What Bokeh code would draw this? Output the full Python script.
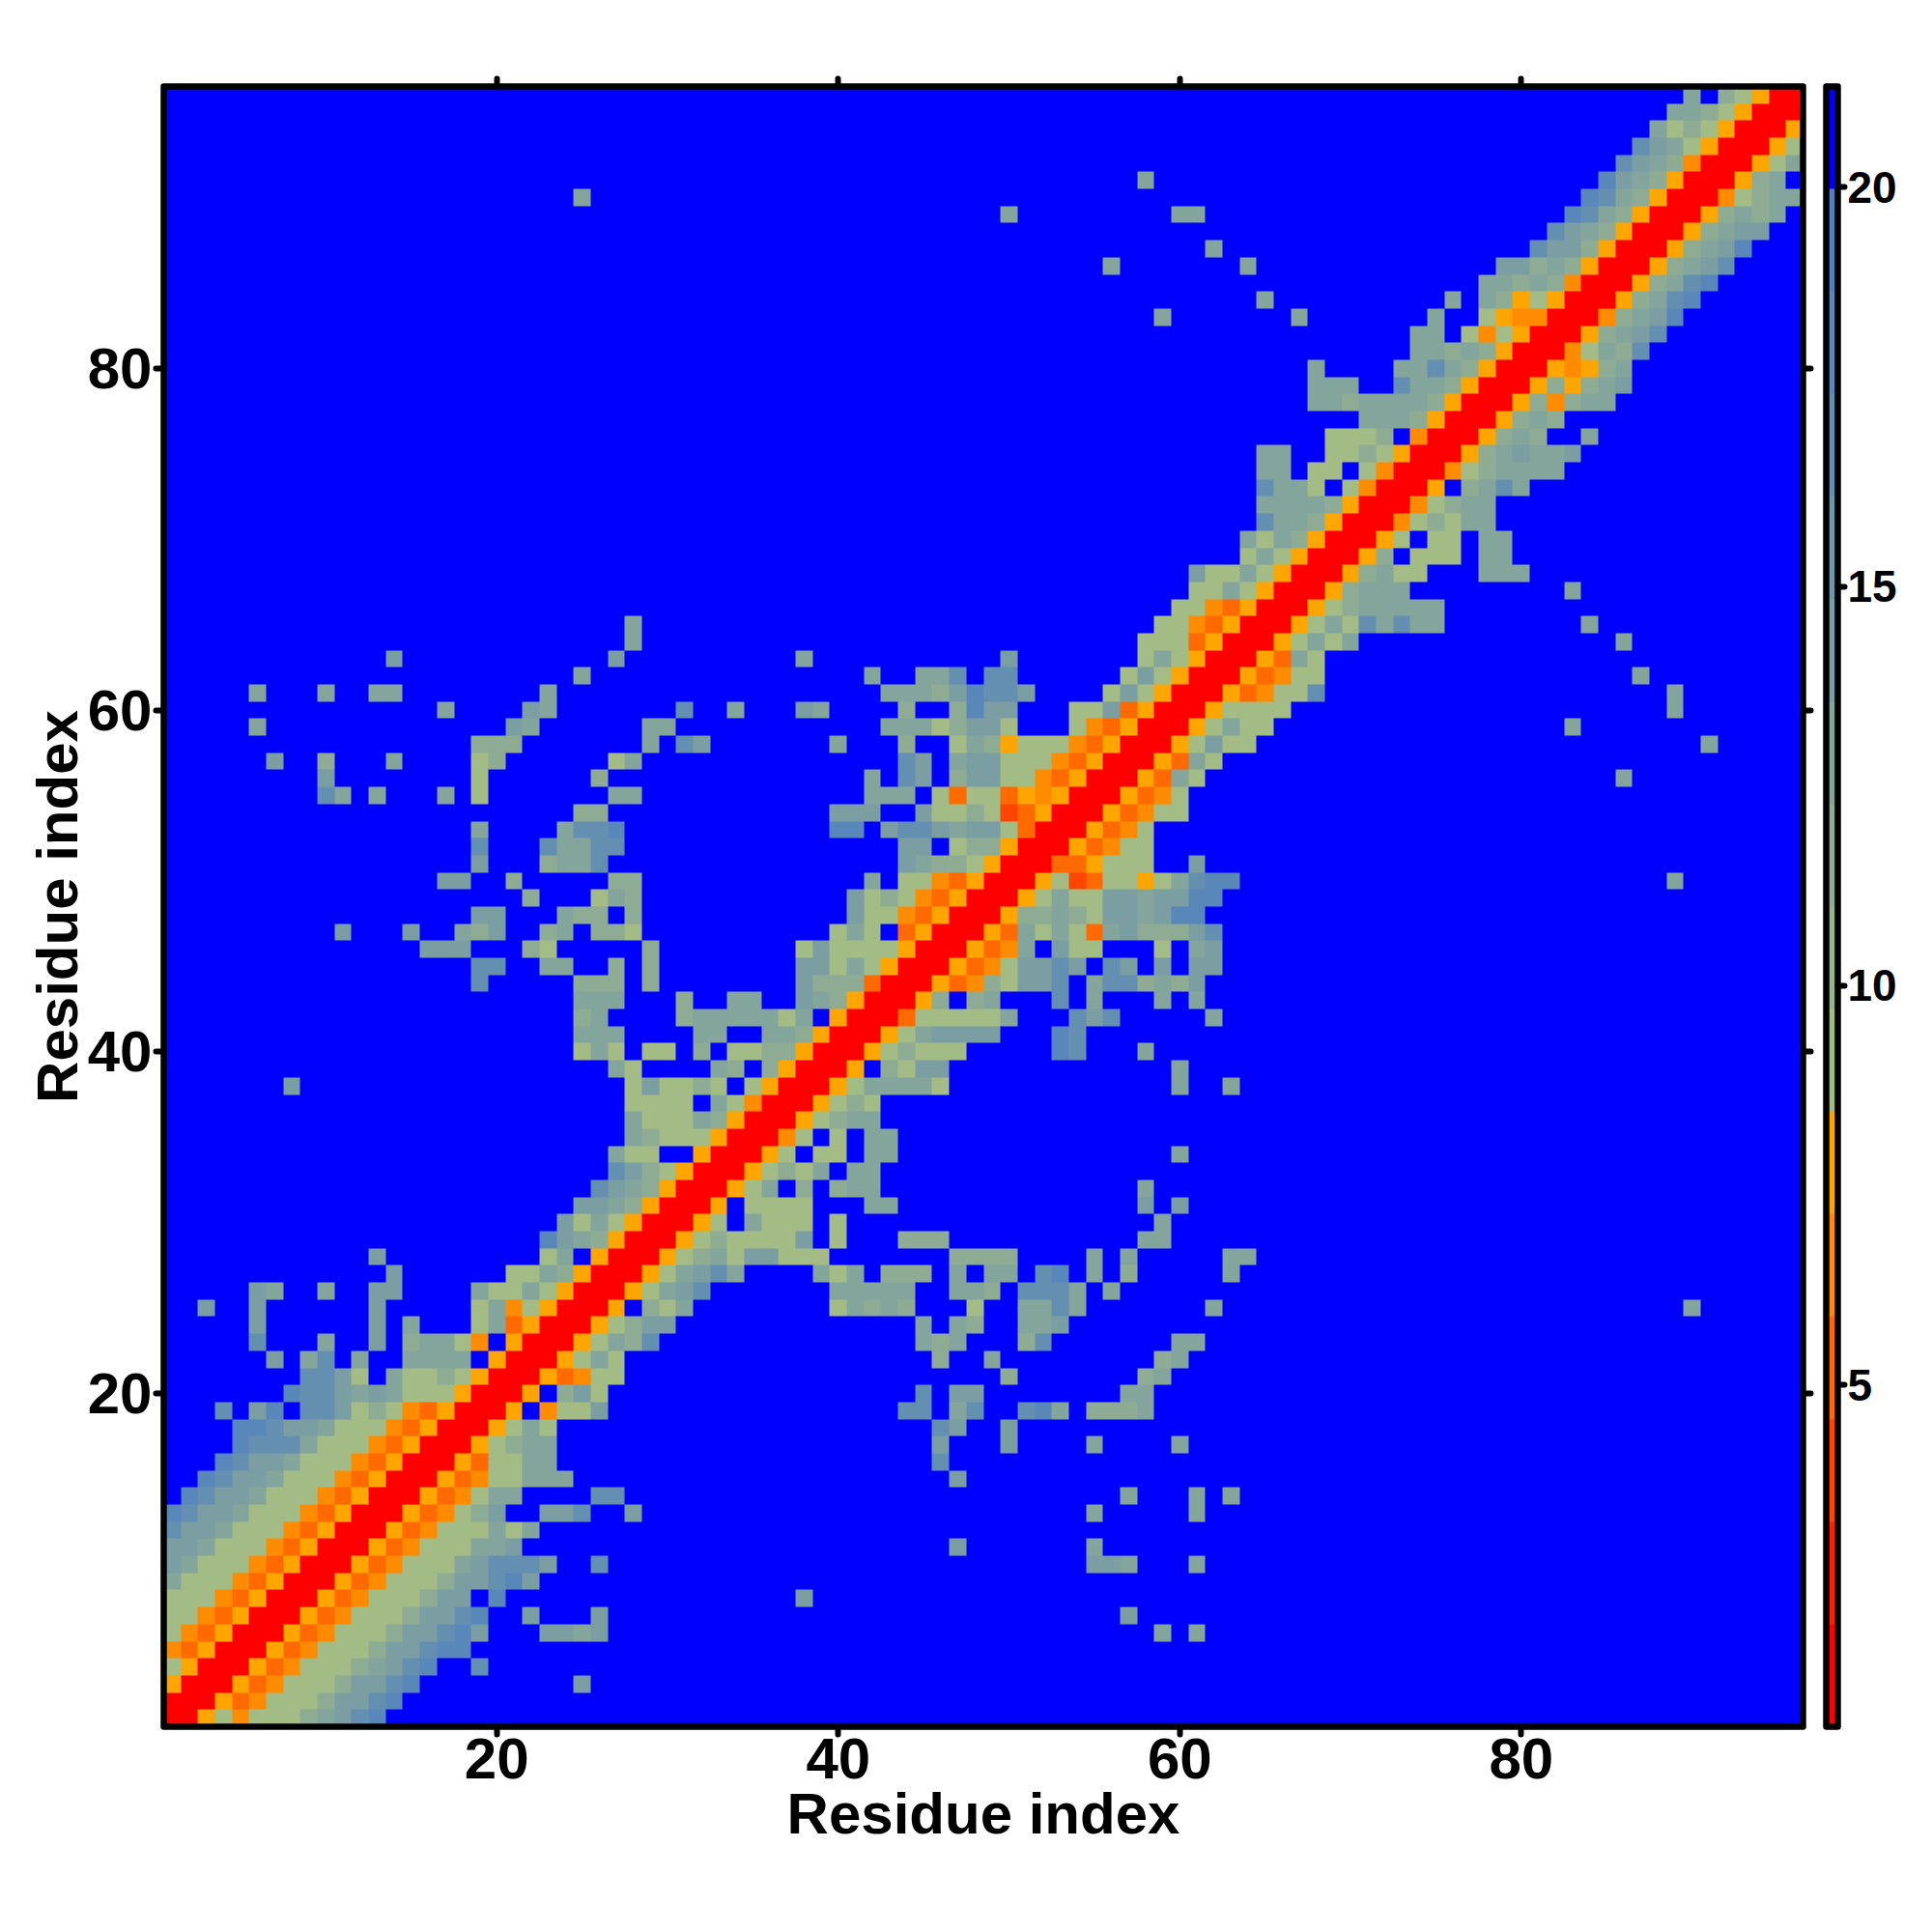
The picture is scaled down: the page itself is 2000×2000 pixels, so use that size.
import numpy as np
from bokeh.embed import file_html
from bokeh.layouts import row
from bokeh.models import FixedTicker, LinearAxis, LinearColorMapper, Range1d
from bokeh.plotting import figure
from bokeh.resources import INLINE

# colour scale: 16 equal bands between scale_low and scale_high
scale_low = 0.72
scale_high = 21.26
palette = ["#ff0000", "#ff2000", "#ff4500", "#ff6a00", "#ff8c00", "#ffa500",
           "#a3bb84", "#99b48c", "#8eac93", "#84a59b", "#7a9ea2", "#6f96aa",
           "#658fb1", "#5a87b9", "#5080c0", "#0000ff"]
# distance read for each letter (band number inside the scale)
band_of = {"r": 0, "a": 2, "o": 3, "m": 4, "d": 5, "6": 6, "7": 6, "8": 8, "9": 9,
           "A": 10, "B": 12, "C": 13}
tick_main = [20, 40, 60, 80]
tick_bar = [5, 10, 15, 20]
axis_title = "Residue index"

# each row: (first residue on x, letters for consecutive residues); the rest is > 20
row_96 = [(90, "9"), (92, "87drr")]
row_95 = [(89, "9987drrr")]
row_94 = [(88, "9787drrrd")]
row_93 = [(87, "BA97drrrd7")]
row_92 = [(86, "BA98mrrrd79")]
row_91 = [(58, "9"), (85, "CA98drrrd89")]
row_90 = [(25, "9"), (84, "CB98drrrm7899")]
row_89 = [(50, "9"), (60, "99"), (83, "CB98drrrd8989")]
row_88 = [(82, "BA98drrrd89AA")]
row_87 = [(62, "9"), (81, "BAA8drrrd89AC")]
row_86 = [(56, "9"), (64, "9"), (79, "AA898drrrd89AB")]
row_85 = [(78, "99898mrrrd89BC")]
row_84 = [(65, "9"), (76, "9"), (78, "98d7drrrd89BC")]
row_83 = [(59, "9"), (67, "9"), (75, "9"), (78, "7dmmrrrm89AC")]
row_82 = [(74, "99"), (77, "7m7drrrd89AB")]
row_81 = [(74, "99898drrrm798B")]
row_80 = [(68, "9"), (73, "99B98drrrdmd89")]
row_79 = [(68, "999"), (73, "B998drrrd8d89A")]
row_78 = [(68, "99899998drrrd8m899")]
row_77 = [(71, "9998drrrd898")]
row_76 = [(69, "7778"), (74, "mrrrd898"), (84, "9")]
row_75 = [(65, "99"), (69, "7787drrrd89A99A")]
row_74 = [(65, "99"), (68, "77"), (71, "7mrrrm789999")]
row_73 = [(65, "B997"), (70, "7mrrrd"), (77, "89B9")]
row_72 = [(65, "99998drrrm7899")]
row_71 = [(65, "B998drrrm78799")]
row_70 = [(64, "9798drrrd7"), (75, "77"), (78, "99")]
row_69 = [(64, "797drrrd8"), (74, "777"), (78, "99")]
row_68 = [(61, "A7797drrrd8977"), (78, "999")]
row_67 = [(61, "7797drrrd8999"), (83, "9")]
row_66 = [(60, "77modrrrd7899999")]
row_65 = [(28, "9"), (59, "77modrrrd797B9B99"), (84, "9")]
row_64 = [(28, "9"), (58, "777odrrrd7979"), (86, "9")]
row_63 = [(14, "A"), (27, "A"), (38, "9"), (50, "A"), (58, "797drrrdo97")]
row_62 = [(25, "9"), (42, "9"), (45, "99B"), (49, "BB"), (57, "7A7drrrdom77"), (87, "9")]
row_61 = [(6, "9"), (10, "9"), (13, "99"), (23, "9"), (43, "9998ACBBA"), (56, "7A7drrrdom77B"), (89, "9")]
row_60 = [(17, "9"), (22, "A9"), (31, "B"), (34, "9"), (38, "A9"), (44, "8"), (47, "8CAA"), (54, "77Aodrrrd7777"), (89, "9")]
row_59 = [(6, "9"), (21, "A9"), (29, "99"), (43, "99978AA7"), (54, "7modrrrd7977"), (83, "9")]
row_58 = [(19, "888"), (29, "9"), (31, "BA"), (40, "9"), (44, "8"), (47, "798d777modrrrd7A77"), (91, "9")]
row_57 = [(7, "A"), (10, "8"), (14, "9"), (19, "78"), (27, "79"), (44, "BA"), (47, "9AA777modrrrdo97")]
row_56 = [(10, "A"), (19, "7"), (26, "8"), (42, "9"), (44, "BA"), (47, "8AA77modrrrdo97"), (86, "9")]
row_55 = [(10, "B9"), (13, "9"), (17, "9"), (19, "7"), (27, "99"), (42, "999"), (46, "7o77odmdrrrdom7")]
row_54 = [(25, "88"), (40, "AAA"), (45, "A7787aodrrrdom77")]
row_53 = [(19, "9"), (24, "9BBC"), (40, "CC"), (43, "ABBA9AA7orrrdom7")]
row_52 = [(19, "B"), (23, "B99BB"), (44, "AA"), (47, "788drrrdom77")]
row_51 = [(19, "A"), (23, "899B"), (44, "A9887drrrood777"), (61, "A")]
row_50 = [(17, "AA"), (21, "8"), (27, "88"), (42, "9"), (44, "77modrrrd7ao77d79BCC"), (89, "9")]
row_49 = [(22, "8"), (26, "798"), (41, "A787modrrrd7977AA9AACC")]
row_48 = [(19, "AA"), (24, "988"), (28, "8"), (41, "A77modrrrd88987AA9ACC")]
row_47 = [(11, "A"), (15, "A"), (18, "98A"), (23, "89"), (26, "887"), (40, "797"), (44, "odrrrdo9797o9A888AB")]
row_46 = [(16, "AAA"), (22, "87"), (29, "8"), (38, "7A7777drrrdom9"), (53, "A77"), (59, "7"), (61, "9A")]
row_45 = [(19, "BB"), (23, "99"), (27, "8"), (29, "8"), (38, "AA797drrrdom7AABA"), (56, "BA"), (59, "A"), (61, "AA")]
row_44 = [(19, "B"), (25, "888"), (29, "8"), (38, "A888orrrdom87AAB"), (55, "9BB898A")]
row_43 = [(25, "999"), (31, "8"), (34, "99"), (38, "A98drrrd8"), (48, "89"), (53, "B"), (55, "9"), (59, "9"), (61, "9")]
row_42 = [(25, "89"), (31, "89999979"), (40, "drrro777779"), (54, "BAB"), (62, "9")]
row_41 = [(25, "999"), (32, "99"), (36, "998drrrd79AAAA"), (53, "CB")]
row_40 = [(25, "697"), (29, "77"), (32, "8"), (34, "7788drrrd78777"), (53, "CB"), (58, "9")]
row_39 = [(27, "97"), (33, "98"), (36, "8drrrd"), (43, "87AA"), (60, "9")]
row_38 = [(8, "A"), (28, "7A7787"), (35, "7drrrd799997"), (60, "9"), (63, "9")]
row_37 = [(28, "7777"), (33, "97mrrrd787")]
row_36 = [(28, "977798drrrd7899")]
row_35 = [(28, "98777"), (33, "drrrm7"), (40, "7"), (42, "99")]
row_34 = [(27, "977"), (32, "drrrd7"), (39, "77"), (42, "99"), (60, "9")]
row_33 = [(27, "BA87drrrd7879"), (41, "99")]
row_32 = [(26, "BA98drrrd79"), (38, "8"), (40, "899"), (58, "9")]
row_31 = [(25, "AA98drrrd"), (35, "7777"), (42, "99"), (58, "A"), (60, "A")]
row_30 = [(24, "A797drrrd7"), (35, "9777"), (40, "7"), (59, "9")]
row_29 = [(23, "CA98drrrd787777A"), (40, "7"), (44, "888"), (58, "99")]
row_28 = [(13, "A"), (23, "79"), (26, "drrrd7897AA777"), (47, "8888"), (55, "9"), (57, "9"), (63, "99")]
row_27 = [(14, "A"), (21, "7798drrrd79AB9"), (39, "969"), (43, "888"), (47, "9"), (49, "99"), (52, "BC"), (55, "9"), (57, "8"), (63, "9")]
row_26 = [(6, "A9"), (10, "9"), (13, "AA"), (19, "97797drrrd79AB"), (40, "99999"), (47, "998"), (51, "BBB9"), (56, "9")]
row_25 = [(3, "A"), (6, "A"), (13, "A"), (19, "79m7drrrd"), (29, "879"), (40, "69898"), (48, "7"), (51, "99B9"), (62, "9"), (90, "9")]
row_24 = [(6, "A"), (13, "A"), (15, "9"), (19, "79odrrrd78AA"), (45, "9"), (47, "98"), (51, "99A")]
row_23 = [(6, "B"), (10, "9"), (13, "A"), (15, "8997m"), (21, "drrrd798B"), (45, "989"), (51, "8B"), (60, "99")]
row_22 = [(7, "A"), (9, "9B"), (12, "9"), (15, "9999"), (20, "drrrd797"), (46, "8"), (49, "9"), (59, "89")]
row_21 = [(9, "BBA7"), (14, "97787drrrdom77"), (50, "8"), (58, "89")]
row_20 = [(8, "CBBA9A9777drrrd"), (24, "8A7"), (45, "B"), (47, "AA"), (57, "99")]
row_19 = [(4, "B"), (6, "AC"), (9, "BBA787modrrrd"), (23, "m77A"), (44, "BB"), (47, "9B"), (51, "BC9"), (55, "8889")]
row_18 = [(5, "CCBAA9777modrrrd797"), (46, "BA"), (50, "A")]
row_17 = [(5, "CBBB9777modrrrd7899"), (46, "A"), (50, "A"), (55, "9"), (60, "9")]
row_16 = [(4, "CBAA9777modrrrdo7799"), (46, "B")]
row_15 = [(3, "CBAA9777modrrrdom77999"), (47, "A")]
row_14 = [(2, "CBAA9777modrrrdom799"), (26, "BB"), (57, "9"), (61, "9"), (63, "9")]
row_13 = [(1, "CBAA9777modrrrdom78A"), (23, "AAB"), (28, "A"), (55, "9"), (61, "9")]
row_12 = [(1, "BAA9777modrrrdom777979")]
row_11 = [(1, "AA9777modrrrdom77799A"), (47, "A"), (55, "9")]
row_10 = [(1, "A9777modrrrdom7779ABBBA"), (26, "B"), (55, "AA9"), (61, "9")]
row_9 = [(1, "9777modrrrdom7778AABCA")]
row_8 = [(1, "777modrrrdom7778AA"), (20, "C"), (38, "A")]
row_7 = [(1, "77modrrrdom7778AABC"), (22, "A"), (26, "A"), (57, "A")]
row_6 = [(1, "7modrrrdom7778AABCA"), (23, "AA9A"), (59, "9"), (61, "9")]
row_5 = [(1, "modrrrdom7778AABCC")]
row_4 = [(1, "7drrrdom77789ABC"), (19, "B")]
row_3 = [(1, "drrrdom7778AABC"), (25, "A")]
row_2 = [(1, "rrrdom7778AABC")]
row_1 = [(1, "rrd7m77789ABC")]

n = 96
step = (scale_high - scale_low) / 16
matrix = np.full((n, n), scale_low + 15.5 * step)
for yy in range(1, n + 1):
    for first, letters in globals()[f"row_{yy}"]:
        for k, ch in enumerate(letters):
            matrix[yy - 1, first - 1 + k] = scale_low + (band_of[ch] + 0.5) * step

mapper = LinearColorMapper(palette=palette, low=scale_low, high=scale_high)
font = "Liberation Sans"
frame_px = 6.5

p = figure(frame_width=1697, frame_height=1698, x_range=Range1d(0.5, n + 0.5), y_range=Range1d(0.5, n + 0.5),
           output_backend="svg", toolbar_location=None, min_border_left=169, min_border_top=89,
           min_border_right=19, min_border_bottom=130, background_fill_color="white")
p.image(image=[matrix], x=0.5, y=0.5, dw=n, dh=n, color_mapper=mapper)
p.grid.visible = False
p.outline_line_color = None
p.quad(left=[0.5], right=[n + 0.5], bottom=[0.5], top=[n + 0.5], fill_color=None,
       line_color="black", line_width=frame_px, line_join="round", level="overlay")


def style(ax, labels=True):
    ax.ticker = FixedTicker(ticks=tick_main)
    ax.axis_line_color = None
    ax.major_tick_line_color = "black"
    ax.major_tick_line_width = 6
    ax.major_tick_line_cap = "round"
    ax.major_tick_in = 0
    ax.major_tick_out = 8
    ax.minor_tick_line_color = None
    ax.major_label_text_font = font
    ax.major_label_text_font_style = "bold"
    ax.major_label_text_color = "black"
    ax.major_label_text_font_size = "60px" if labels else "0px"
    ax.major_label_standoff = 4


for ax, title in ((p.xaxis[0], axis_title), (p.yaxis[0], axis_title)):
    style(ax)
    ax.axis_label = title
    ax.axis_label_text_font = font
    ax.axis_label_text_font_style = "bold"
    ax.axis_label_text_font_size = "60px"
    ax.axis_label_text_color = "black"
    ax.axis_label_standoff = 0
p.yaxis[0].axis_label_standoff = -5

top_axis = LinearAxis()
style(top_axis, labels=False)
top_axis.major_label_text_color = None
top_axis.major_label_standoff = 0
p.add_layout(top_axis, "above")
right_axis = LinearAxis()
style(right_axis, labels=False)
right_axis.major_label_text_color = None
right_axis.major_label_standoff = 0
p.add_layout(right_axis, "right")

# colour bar
bar_values = np.array([[scale_low + (i + 0.5) * step] for i in range(16)])
q = figure(frame_width=12, frame_height=1698, x_range=Range1d(0, 1), y_range=Range1d(scale_low, scale_high),
           output_backend="svg", toolbar_location=None, min_border_left=5, min_border_top=89,
           min_border_right=90, min_border_bottom=130, y_axis_location="right", x_axis_location=None)
q.image(image=[bar_values], x=0, y=scale_low, dw=1, dh=scale_high - scale_low, color_mapper=mapper)
q.grid.visible = False
q.outline_line_color = None
q.quad(left=[0], right=[1], bottom=[scale_low], top=[scale_high], fill_color=None,
       line_color="black", line_width=frame_px, line_join="round", level="overlay")
style(q.yaxis[0])
q.yaxis[0].ticker = FixedTicker(ticks=tick_bar)
q.yaxis[0].major_label_text_font_size = "46px"
q.yaxis[0].major_tick_out = 7
q.yaxis[0].major_label_standoff = 3

layout = row(p, q)
open("out.html", "w").write(file_html(layout, INLINE))
